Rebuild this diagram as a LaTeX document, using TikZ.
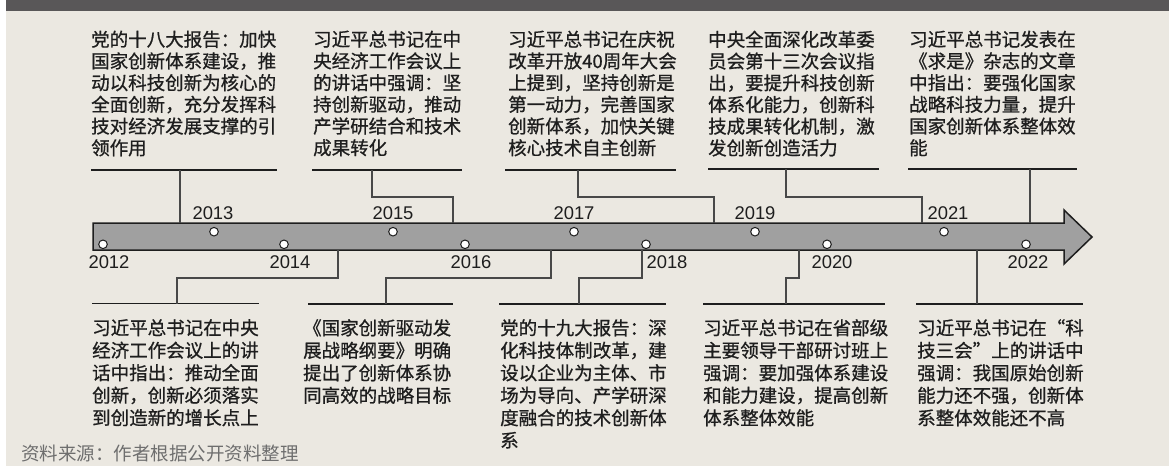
\documentclass[tikz,border=0pt]{standalone}
\usepackage{fontspec}
\setmainfont{Liberation Sans}
\newfontfamily\cjk[FakeBold=0.8]{Noto Sans CJK SC}
\newfontfamily\cjksrc{Noto Sans CJK SC}
\definecolor{bg}{HTML}{EBE8E1}
\definecolor{band}{HTML}{595758}
\definecolor{arrowfill}{HTML}{A0A0A0}
\definecolor{ink}{HTML}{1E1E1E}
\definecolor{connc}{HTML}{484848}
\definecolor{srcc}{HTML}{6E6E6E}
\tikzset{
  topblock/.style={anchor=north west, inner sep=0pt, align=left, text=ink,
    font=\cjk\fontsize{18.5}{21.7}\selectfont},
  botblock/.style={anchor=north west, inner sep=0pt, align=left, text=ink,
    font=\cjk\fontsize{18.5}{22.5}\selectfont},
  yearlbl/.style={inner sep=0pt, text=ink, font=\fontsize{18.4}{20}\selectfont},
  dot/.style={circle, draw=ink, fill=white, line width=1pt, minimum size=8.6pt, inner sep=0pt},
  bar/.style={draw=ink, line width=1.1pt},
  conn/.style={draw=connc, line width=1.2pt},
}
\begin{document}
\begin{tikzpicture}[x=1pt,y=-1pt]
\useasboundingbox (0,0) rectangle (1169,466);
\fill[white] (0,0) rectangle (1169,466);
\fill[bg] (6,0) rectangle (1169,466);
\fill[band] (6,0) rectangle (1169,11);

% arrow
\filldraw[fill=arrowfill, draw=ink, line width=1.5pt, line join=miter]
  (93,223) -- (1064,223) -- (1064,210) -- (1092,237) -- (1064,264) -- (1064,250) -- (93,250) -- cycle;

% dots
\node[dot] (d2012) at (103,244.3) {};
\node[dot] (d2013) at (214,231.7) {};
\node[dot] (d2014) at (284,244.3) {};
\node[dot] (d2015) at (393,231.7) {};
\node[dot] (d2016) at (465,244.3) {};
\node[dot] (d2017) at (574,231.7) {};
\node[dot] (d2018) at (646,244.3) {};
\node[dot] (d2019) at (755,231.7) {};
\node[dot] (d2020) at (827,244.3) {};
\node[dot] (d2021) at (944,231.7) {};
\node[dot] (d2022) at (1026,244.3) {};

% year labels
\node[yearlbl] (y2013) at (213,212.8) {2013};
\node[yearlbl] (y2015) at (393,212.8) {2015};
\node[yearlbl] (y2017) at (574,212.8) {2017};
\node[yearlbl] (y2019) at (755,212.8) {2019};
\node[yearlbl] (y2021) at (948,212.8) {2021};
\node[yearlbl] (y2012) at (109,261.7) {2012};
\node[yearlbl] (y2014) at (290,261.7) {2014};
\node[yearlbl] (y2016) at (471,261.7) {2016};
\node[yearlbl] (y2018) at (667,261.7) {2018};
\node[yearlbl] (y2020) at (832,261.7) {2020};
\node[yearlbl] (y2022) at (1028,261.7) {2022};

% top text blocks
\node[topblock] (t1) at (91,30.5) {党的十八大报告：加快\\国家创新体系建设，推\\动以科技创新为核心的\\全面创新，充分发挥科\\技对经济发展支撑的引\\领作用};
\node[topblock] (t2) at (313,30.5) {习近平总书记在中\\央经济工作会议上\\的讲话中强调：坚\\持创新驱动，推动\\产学研结合和技术\\成果转化};
\node[topblock] (t3) at (508,30.5) {习近平总书记在庆祝\\改革开放40周年大会\\上提到，坚持创新是\\第一动力，完善国家\\创新体系，加快关键\\核心技术自主创新};
\node[topblock] (t4) at (708,30.5) {中央全面深化改革委\\员会第十三次会议指\\出，要提升科技创新\\体系化能力，创新科\\技成果转化机制，激\\发创新创造活力};
\node[topblock] (t5) at (909,30.5) {习近平总书记发表在\\《求是》杂志的文章\\中指出：要强化国家\\战略科技力量，提升\\国家创新体系整体效\\能};

% bottom text blocks
\node[botblock] (b1) at (92,319) {习近平总书记在中央\\经济工作会议上的讲\\话中指出：推动全面\\创新，创新必须落实\\到创造新的增长点上};
\node[botblock] (b2) at (303,319) {《国家创新驱动发\\展战略纲要》明确\\提出了创新体系协\\同高效的战略目标};
\node[botblock] (b3) at (500,319) {党的十九大报告：深\\化科技体制改革，建\\设以企业为主体、市\\场为导向、产学研深\\度融合的技术创新体\\系};
\node[botblock] (b4) at (703,319) {习近平总书记在省部级\\主要领导干部研讨班上\\强调：要加强体系建设\\和能力建设，提高创新\\体系整体效能};
\node[botblock] (b5) at (917,319) {习近平总书记在“科\\技三会”上的讲话中\\强调：我国原始创新\\能力还不强，创新体\\系整体效能还不高};

% source
\node[anchor=west, inner sep=0pt, text=srcc, font=\cjksrc\fontsize{18.5}{20}\selectfont] (src) at (21,453) {资料来源：作者根据公开资料整理};

% top bars and connectors
\coordinate (ta1) at (180,170); \coordinate (ua1) at (180,223);
\draw[bar] (91,170) -- (277,170);
\draw[conn] (ta1) -- (ua1);

\coordinate (ta2) at (372,170); \coordinate (ua2) at (453,223);
\draw[bar] (312,170) -- (462,170);
\draw[conn] (ta2) |- (453,197) -- (ua2);

\coordinate (ta3) at (578,170); \coordinate (ua3) at (714,223);
\draw[bar] (505,170) -- (676,170);
\draw[conn] (ta3) |- (714,197) -- (ua3);

\coordinate (ta4) at (786,169); \coordinate (ua4) at (922,223);
\draw[bar] (708,169) -- (879,169);
\draw[conn] (ta4) |- (922,197) -- (ua4);

\coordinate (ta5) at (1030,169); \coordinate (ua5) at (1030,223);
\draw[bar] (908,169) -- (1077,169);
\draw[conn] (ta5) -- (ua5);

% bottom bars and connectors
\coordinate (ba1) at (177,303.5); \coordinate (la1) at (338,250);
\draw[bar] (92,303.5) -- (259,303.5);
\draw[conn] (ba1) |- (338,278) -- (la1);

\coordinate (ba2) at (386,304); \coordinate (la2) at (551,250);
\draw[bar] (308,304) -- (453,304);
\draw[conn] (ba2) |- (551,278) -- (la2);

\coordinate (ba3) at (579,304); \coordinate (la3) at (642,250);
\draw[bar] (499,304) -- (666,304);
\draw[conn] (ba3) |- (642,278) -- (la3);

\coordinate (ba4) at (786,304); \coordinate (la4) at (799,250);
\draw[bar] (703,304) -- (885,304);
\draw[conn] (ba4) |- (799,278) -- (la4);

\coordinate (ba5) at (977,304); \coordinate (la5) at (977,250);
\draw[bar] (916,304) -- (1083,304);
\draw[conn] (ba5) -- (la5);
\end{tikzpicture}
\end{document}
